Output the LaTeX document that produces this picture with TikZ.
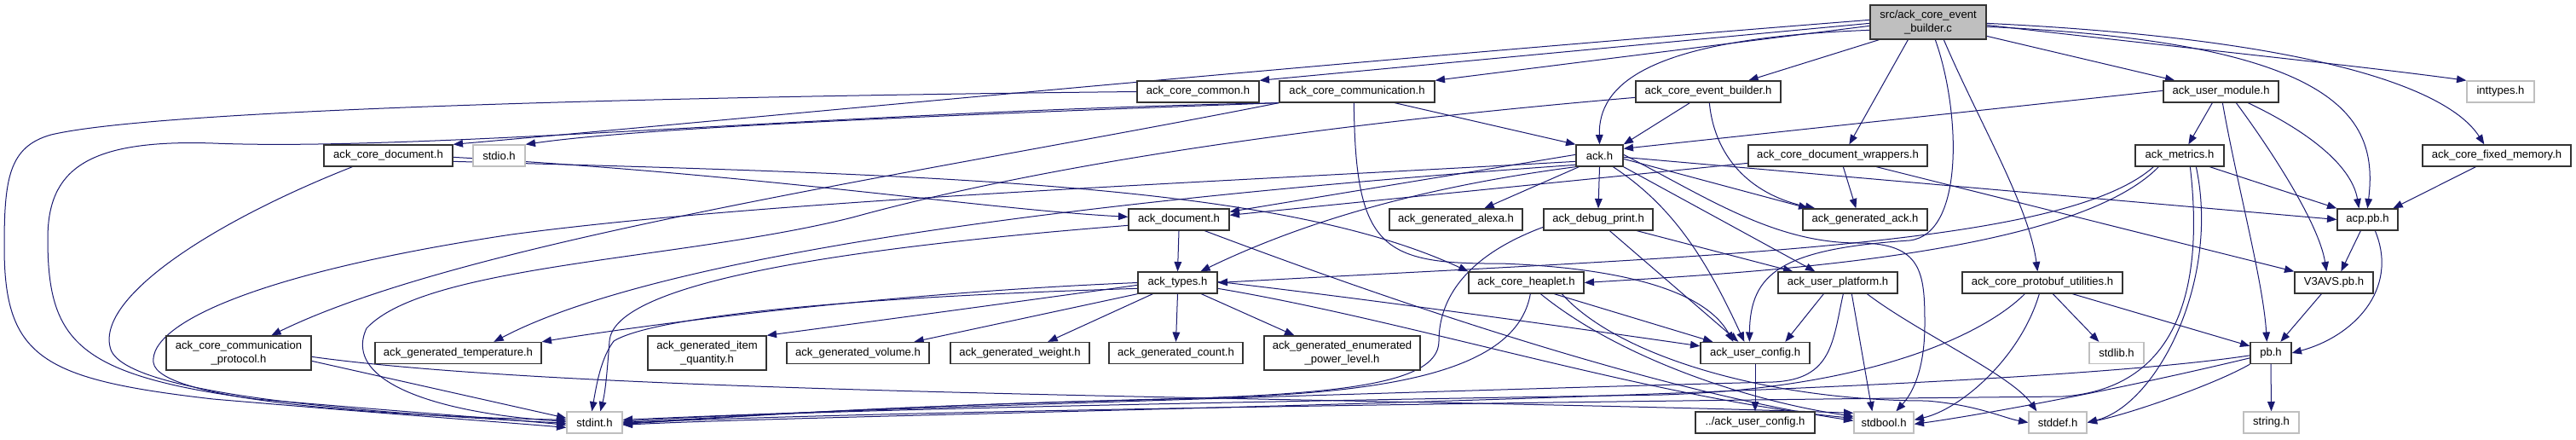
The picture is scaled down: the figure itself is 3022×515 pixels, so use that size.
\documentclass[tikz,border=0pt]{standalone}
\usepackage{fontspec}
\setmainfont{Liberation Sans}
\usetikzlibrary{arrows.meta}
\definecolor{gray75}{RGB}{191,191,191}
\definecolor{midblue}{RGB}{25,25,112}
\newcommand\nf{\fontsize{9.8pt}{11.5pt}\selectfont}
% name, x1, x2, ycenter, height, style, text
\newcommand\mkbox[7]{\node[#6, minimum width={(#3-#2)*0.75pt}, minimum height={(#5)*0.75pt}] (#1) at ({(#2+#3)/2},#4) {#7};}
\pgfdeclarelayer{bg}\pgfdeclarelayer{edges}\pgfsetlayers{bg,edges,main}
\begin{document}
\begin{tikzpicture}[x=0.75pt,y=-0.75pt,
  nbox/.style={draw=black!80, fill=white, line width=1pt, inner sep=0pt, font=\nf, align=center},
  sbox/.style={nbox, draw=gray75},
  rbox/.style={nbox, fill=gray75},
  inc/.style={draw=midblue, line width=0.75pt, -{Triangle[length=8.5pt,width=6.5pt]}}]
\useasboundingbox (0,0) rectangle (3022,515);
\begin{pgfonlayer}{bg}\fill[white] (0,0) rectangle (3022,515);\end{pgfonlayer}
% row 1
\mkbox{src}{2194}{2330}{26}{40}{rbox}{src/ack\_core\_event\\\_builder.c}
% row 2
\mkbox{common}{1334}{1477}{107.5}{25}{nbox}{ack\_core\_common.h}
\mkbox{comm}{1501}{1683}{107.5}{25}{nbox}{ack\_core\_communication.h}
\mkbox{evb}{1919}{2089}{107.5}{25}{nbox}{ack\_core\_event\_builder.h}
\mkbox{usermod}{2538}{2673}{107.5}{25}{nbox}{ack\_user\_module.h}
\mkbox{inttypes}{2894}{2973}{107.5}{25}{sbox}{inttypes.h}
% row 3
\mkbox{coredoc}{380}{531}{182.5}{25}{nbox}{ack\_core\_document.h}
\mkbox{stdio}{555}{616}{182.5}{25}{sbox}{stdio.h}
\mkbox{ack}{1849}{1904}{182.5}{25}{nbox}{ack.h}
\mkbox{wrappers}{2051}{2261}{182.5}{25}{nbox}{ack\_core\_document\_wrappers.h}
\mkbox{metrics}{2505}{2609}{182.5}{25}{nbox}{ack\_metrics.h}
\mkbox{fixedmem}{2842}{3016}{182.5}{25}{nbox}{ack\_core\_fixed\_memory.h}
% row 4
\mkbox{doc}{1324}{1442}{257.5}{25}{nbox}{ack\_document.h}
\mkbox{alexa}{1630}{1786}{257.5}{25}{nbox}{ack\_generated\_alexa.h}
\mkbox{debug}{1811}{1939}{257.5}{25}{nbox}{ack\_debug\_print.h}
\mkbox{genack}{2115}{2261}{257.5}{25}{nbox}{ack\_generated\_ack.h}
\mkbox{acp}{2742}{2813}{257.5}{25}{nbox}{acp.pb.h}
% row 5
\mkbox{types}{1335}{1428}{331.5}{25}{nbox}{ack\_types.h}
\mkbox{heaplet}{1723}{1858}{331.5}{25}{nbox}{ack\_core\_heaplet.h}
\mkbox{platform}{2086}{2226}{331.5}{25}{nbox}{ack\_user\_platform.h}
\mkbox{protobuf}{2302}{2490}{331.5}{25}{nbox}{ack\_core\_protobuf\_utilities.h}
\mkbox{v3avs}{2692}{2784}{331.5}{25}{nbox}{V3AVS.pb.h}
% row 6
\mkbox{protocol}{195}{365}{414}{40}{nbox}{ack\_core\_communication\\\_protocol.h}
\mkbox{temp}{440}{635}{414}{25}{nbox}{ack\_generated\_temperature.h}
\mkbox{itemq}{760}{899}{414}{40}{nbox}{ack\_generated\_item\\\_quantity.h}
\mkbox{volume}{923}{1090}{414}{25}{nbox}{ack\_generated\_volume.h}
\mkbox{weight}{1115}{1278}{414}{25}{nbox}{ack\_generated\_weight.h}
\mkbox{count}{1301}{1458}{414}{25}{nbox}{ack\_generated\_count.h}
\mkbox{power}{1483}{1666}{414}{40}{nbox}{ack\_generated\_enumerated\\\_power\_level.h}
\mkbox{userconfig}{1995}{2123}{414}{25}{nbox}{ack\_user\_config.h}
\mkbox{stdlib}{2451}{2515}{414}{25}{sbox}{stdlib.h}
\mkbox{pb}{2640}{2688}{414}{25}{nbox}{pb.h}
% row 7
\mkbox{stdint}{665}{730}{495.5}{25}{sbox}{stdint.h}
\mkbox{duc}{1989}{2129}{495.5}{25}{nbox}{../ack\_user\_config.h}
\mkbox{stdbool}{2175}{2245}{495.5}{25}{sbox}{stdbool.h}
\mkbox{stddef}{2380}{2448}{495.5}{25}{sbox}{stddef.h}
\mkbox{string}{2632}{2697}{495.5}{25}{sbox}{string.h}

\begin{pgfonlayer}{edges}
% from src
\draw[inc] ([shift={(0,22)}]src.north west) -- (common.north east);
\draw[inc] ([shift={(0,25)}]src.north west) -- (comm.north east);
\draw[inc] ([shift={(0,18)}]src.north west) .. controls (1500,78) and (900,137) .. (coredoc.north east);
\draw[inc] ([shift={(0,30)}]src.north west) .. controls (1930,45) and (1875,100) .. (ack.north);
\draw[inc] ([shift={(11,0)}]src.south west) -- ([shift={(133,0)}]evb.north west);
\draw[inc] ([shift={(45,0)}]src.south west) -- ([shift={(119,0)}]wrappers.north west);
\draw[inc] ([shift={(77,0)}]src.south west) .. controls (2300,130) and (2305,275) .. (2240,282) .. controls (2090,292) and (2053,320) .. ([shift={(58,0)}]userconfig.north west);
\draw[inc] ([shift={(87,0)}]src.south west) .. controls (2320,140) and (2380,240) .. ([shift={(89,0)}]protobuf.north west);
\draw[inc] ([shift={(0,37)}]src.north east) -- ([shift={(14,0)}]usermod.north west);
\draw[inc] ([shift={(0,24)}]src.north east) .. controls (2550,55) and (2750,75) .. (inttypes.north west);
\draw[inc] ([shift={(0,26)}]src.north east) .. controls (2750,50) and (2790,140) .. ([shift={(36,0)}]acp.north west);
\draw[inc] ([shift={(0,22)}]src.north east) .. controls (2700,45) and (2870,100) .. ([shift={(73,0)}]fixedmem.north west);
% common
\draw[inc] (common.west) .. controls (900,112) and (200,125) .. (60,158) .. controls (10,172) and (5,210) .. (5,290) .. controls (5,420) and (50,445) .. (250,468) .. controls (450,485) and (550,492) .. ([shift={(0,19)}]stdint.north west);
% comm
\draw[inc] (comm.south west) .. controls (1000,130) and (500,178) .. (250,168) .. controls (100,163) and (56,200) .. (56,280) .. controls (56,400) and (90,440) .. (300,468) .. controls (500,485) and (600,492) .. ([shift={(0,16)}]stdint.north west);
\draw[inc] (comm.south west) .. controls (1100,135) and (750,150) .. (stdio.north east);
\draw[inc] (comm.south west) .. controls (1100,200) and (550,280) .. ([shift={(124,0)}]protocol.north west);
\draw[inc] ([shift={(136,0)}]comm.south west) -- (ack.north west);
\draw[inc] ([shift={(88,0)}]comm.south west) .. controls (1590,290) and (1620,310) .. (1760,309) .. controls (1900,314) and (2000,340) .. ([shift={(39,0)}]userconfig.north west);
% coredoc
\draw[inc] ([shift={(0,20)}]coredoc.north east) .. controls (1100,205) and (1500,215) .. (heaplet.north west);
\draw[inc] ([shift={(0,15)}]coredoc.north east) .. controls (900,205) and (1150,245) .. ([shift={(0,10)}]doc.north west);
\draw[inc] ([shift={(34,0)}]coredoc.south west) .. controls (250,260) and (110,350) .. (130,410) .. controls (150,465) and (450,485) .. ([shift={(0,14)}]stdint.north west);
% evb
\draw[inc] ([shift={(64,0)}]evb.south west) -- (ack.north east);
\draw[inc] ([shift={(87,0)}]evb.south west) .. controls (2012,190) and (2060,230) .. ([shift={(15,0)}]genack.north west);
\draw[inc] ([shift={(0,20)}]evb.north west) .. controls (1500,150) and (1200,200) .. (1000,255) .. controls (800,305) and (500,310) .. (430,385) .. controls (400,450) and (520,485) .. ([shift={(0,12)}]stdint.north west);
% ack
\draw[inc] ([shift={(0,20)}]ack.north west) .. controls (1400,215) and (900,235) .. (600,275) .. controls (300,320) and (175,380) .. (180,425) .. controls (185,470) and (450,488) .. ([shift={(0,10)}]stdint.north west);
\draw[inc] ([shift={(0,24)}]ack.north west) .. controls (1400,225) and (800,285) .. ([shift={(140,0)}]temp.north west);
\draw[inc] ([shift={(0,12)}]ack.north west) -- ([shift={(0,4)}]doc.north east);
\draw[inc] (ack.south west) .. controls (1700,215) and (1550,250) .. ([shift={(74,0)}]types.north west);
\draw[inc] ([shift={(4,0)}]ack.south west) -- ([shift={(112,0)}]alexa.north west);
\draw[inc] (ack.south) -- (debug.north);
\draw[inc] ([shift={(44,0)}]ack.south west) .. controls (1960,240) and (2000,300) .. ([shift={(52,0)}]userconfig.north west);
\draw[inc] (ack.south east) -- ([shift={(44,0)}]platform.north west);
\draw[inc] ([shift={(0,17)}]ack.north east) -- ([shift={(7,0)}]genack.north west);
\draw[inc] ([shift={(0,12)}]ack.north east) .. controls (2000,230) and (2080,285) .. (2180,285) .. controls (2255,285) and (2258,320) .. (2258,380) .. controls (2258,440) and (2240,465) .. ([shift={(50,0)}]stdbool.north west);
\draw[inc] ([shift={(0,15)}]ack.north east) -- (acp.west);
% wrappers
\draw[inc] ([shift={(0,22)}]wrappers.north west) -- ([shift={(0,8)}]doc.north east);
\draw[inc] ([shift={(112,0)}]wrappers.south west) -- ([shift={(63,0)}]genack.north west);
\draw[inc] ([shift={(151,0)}]wrappers.south west) -- (v3avs.north west);
% usermod
\draw[inc] ([shift={(0,12)}]usermod.north west) -- ([shift={(0,5)}]ack.north east);
\draw[inc] ([shift={(58,0)}]usermod.south west) -- ([shift={(63,0)}]metrics.north west);
\draw[inc] ([shift={(70,0)}]usermod.south west) .. controls (2625,220) and (2655,330) .. ([shift={(20,0)}]pb.north west);
\draw[inc] ([shift={(86,0)}]usermod.south west) .. controls (2660,170) and (2720,260) .. ([shift={(38,0)}]v3avs.north west);
\draw[inc] ([shift={(100,0)}]usermod.south west) .. controls (2720,160) and (2760,200) .. ([shift={(26,0)}]acp.north west);
% metrics
\draw[inc] ([shift={(88,0)}]metrics.south west) -- (acp.north west);
\draw[inc] ([shift={(22,0)}]metrics.south west) .. controls (2420,290) and (2000,300) .. (types.east);
\draw[inc] ([shift={(28,0)}]metrics.south west) .. controls (2430,300) and (2050,320) .. (heaplet.east);
\draw[inc] ([shift={(65,0)}]metrics.south west) .. controls (2585,330) and (2560,455) .. (2420,465) .. controls (1900,470) and (1000,482) .. ([shift={(0,14)}]stdint.north east);
\draw[inc] ([shift={(72,0)}]metrics.south west) .. controls (2605,330) and (2530,475) .. (stddef.east);
% fixedmem, acp, v3avs
\draw[inc] ([shift={(63,0)}]fixedmem.south west) -- ([shift={(66,0)}]acp.north west);
\draw[inc] ([shift={(28,0)}]acp.south west) -- ([shift={(55,0)}]v3avs.north west);
\draw[inc] ([shift={(45,0)}]acp.south west) .. controls (2815,340) and (2760,395) .. (pb.east);
\draw[inc] ([shift={(32,0)}]v3avs.south west) -- ([shift={(36,0)}]pb.north west);
% protobuf
\draw[inc] ([shift={(107,0)}]protobuf.south west) -- ([shift={(12,0)}]stdlib.north west);
\draw[inc] ([shift={(130,0)}]protobuf.south west) -- ([shift={(0,5)}]pb.north west);
\draw[inc] ([shift={(74,0)}]protobuf.south west) .. controls (2330,390) and (2200,455) .. (1950,463) .. controls (1400,472) and (900,482) .. ([shift={(0,12)}]stdint.north east);
\draw[inc] ([shift={(91,0)}]protobuf.south west) .. controls (2370,420) and (2300,480) .. ([shift={(0,10)}]stdbool.north east);
% pb
\draw[inc] ([shift={(0,16)}]pb.north west) .. controls (2300,468) and (1000,484) .. ([shift={(0,16)}]stdint.north east);
\draw[inc] ([shift={(0,19)}]pb.north west) .. controls (2450,465) and (2300,490) .. ([shift={(0,15)}]stdbool.north east);
\draw[inc] (pb.south west) .. controls (2600,450) and (2500,485) .. (stddef.east);
\draw[inc] (pb.south) -- (string.north);
% platform
\draw[inc] ([shift={(54,0)}]platform.south west) -- ([shift={(100,0)}]userconfig.north west);
\draw[inc] ([shift={(87,0)}]platform.south west) -- ([shift={(22,0)}]stdbool.north west);
\draw[inc] ([shift={(105,0)}]platform.south west) .. controls (2250,390) and (2360,440) .. ([shift={(10,0)}]stddef.north west);
\draw[inc] ([shift={(77,0)}]platform.south west) .. controls (2150,400) and (2150,445) .. (2080,448) .. controls (1800,455) and (1000,480) .. ([shift={(0,10)}]stdint.north east);
% debug
\draw[inc] ([shift={(110,0)}]debug.south west) -- ([shift={(18,0)}]platform.north west);
\draw[inc] ([shift={(78,0)}]debug.south west) -- ([shift={(45,0)}]userconfig.north west);
\draw[inc] ([shift={(0,22)}]debug.north west) .. controls (1720,300) and (1688,350) .. (1688,400) .. controls (1688,455) and (1550,464) .. (1300,470) .. controls (1000,478) and (850,490) .. ([shift={(0,13)}]stdint.north east);
% heaplet
\draw[inc] ([shift={(101,0)}]heaplet.south west) -- ([shift={(15,0)}]userconfig.north west);
\draw[inc] ([shift={(85,0)}]heaplet.south west) .. controls (1900,420) and (2050,470) .. ([shift={(0,6)}]stdbool.north west);
\draw[inc] ([shift={(110,0)}]heaplet.south west) .. controls (1900,420) and (2080,470) .. (2260,470) .. controls (2320,475) and (2350,490) .. (stddef.west);
\draw[inc] ([shift={(73,0)}]heaplet.south west) .. controls (1780,430) and (1650,462) .. (1400,467) .. controls (1000,477) and (850,490) .. ([shift={(0,15)}]stdint.north east);
% types
\draw[inc] (types.west) .. controls (1000,345) and (700,390) .. (temp.north east);
\draw[inc] ([shift={(0,16)}]types.north west) .. controls (1150,360) and (1000,380) .. (itemq.north east);
\draw[inc] (types.south west) -- ([shift={(150,0)}]volume.north west);
\draw[inc] ([shift={(18,0)}]types.south west) -- ([shift={(115,0)}]weight.north west);
\draw[inc] (types.south) -- (count.north);
\draw[inc] ([shift={(75,0)}]types.south west) -- ([shift={(36,0)}]power.north west);
\draw[inc] ([shift={(0,20)}]types.north west) .. controls (950,350) and (760,375) .. (720,400) .. controls (705,420) and (700,450) .. ([shift={(30,0)}]stdint.north west);
\draw[inc] ([shift={(0,12)}]types.north east) .. controls (1600,350) and (1850,385) .. ([shift={(0,5)}]userconfig.north west);
\draw[inc] ([shift={(0,20)}]types.north east) .. controls (1650,375) and (1950,470) .. ([shift={(0,8)}]stdbool.north west);
% doc
\draw[inc] (doc.south) -- (types.north);
\draw[inc] ([shift={(0,20)}]doc.north west) .. controls (1000,290) and (720,330) .. (715,400) .. controls (712,440) and (710,460) .. ([shift={(40,0)}]stdint.north west);
\draw[inc] ([shift={(90,0)}]doc.south west) .. controls (1650,360) and (1950,460) .. ([shift={(0,11)}]stdbool.north west);
% protocol
\draw[inc] ([shift={(0,30)}]protocol.north east) -- ([shift={(0,8)}]stdint.north west);
\draw[inc] ([shift={(0,25)}]protocol.north east) .. controls (700,465) and (1600,465) .. ([shift={(0,2)}]stdbool.north west);
% user config
\draw[inc] (userconfig.south) -- (duc.north);
\end{pgfonlayer}
\end{tikzpicture}
\end{document}
